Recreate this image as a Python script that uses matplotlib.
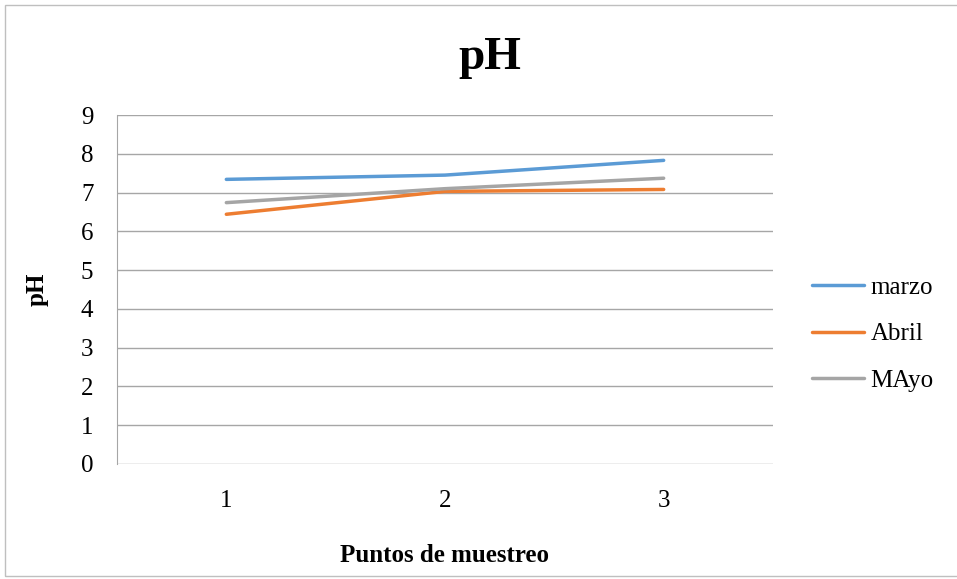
import matplotlib
matplotlib.use("Agg")
import matplotlib.pyplot as plt
from matplotlib.patches import Rectangle

points = [1, 2, 3]
marzo = [7.34, 7.45, 7.83]
abril = [6.44, 7.03, 7.08]
mayo = [6.74, 7.10, 7.37]
series_names = ["marzo", "Abril", "MAyo"]
colors = ["#5B9BD5", "#ED7D31", "#A5A5A5"]
yticks = list(range(0, 10))

plt.rcParams['font.family'] = ['Liberation Serif', 'DejaVu Serif']

W, H = 957, 579
fig = plt.figure(figsize=(W/100, H/100), dpi=100)
fig.patches.append(Rectangle((5/W, 3/H), 1.2, (H-8)/H, transform=fig.transFigure,
                             fill=False, edgecolor="#BFBFBF", linewidth=1.0))

ax = fig.add_axes([117/W, 1-464/H, (773-117)/W, (464-115)/H])
for vals, name, c in zip([marzo, abril, mayo], series_names, colors):
    ax.plot(points, vals, color=c, linewidth=2.5, label=name, solid_capstyle="round")

ax.set_xlim(0.5, 3.5)
ax.set_ylim(0, 9)
ax.set_yticks(yticks)
ax.set_xticks(points)
ax.yaxis.grid(True, color="#A6A6A6", linewidth=1.0)
ax.set_axisbelow(True)
for s in ["top", "right", "bottom"]:
    ax.spines[s].set_visible(False)
ax.spines["left"].set_color("#A6A6A6")
ax.tick_params(axis="both", length=0, labelsize=18)
ax.tick_params(axis="y", pad=17)
ax.tick_params(axis="x", pad=19)

fig.text(490/W, 1-58/H, "pH", fontsize=34, fontweight="bold", ha="center", va="center")
fig.text(444/W, 1-555/H, "Puntos de muestreo", fontsize=18, fontweight="bold", ha="center", va="center")
fig.text(37/W, 1-289/H, "pH", fontsize=18, fontweight="bold", ha="center", va="center", rotation=90)

leg = ax.legend(loc="center left", bbox_to_anchor=(1.059, 0.372), frameon=False,
                fontsize=18, handlelength=2.1, handletextpad=0.25, labelspacing=0.95,
                borderaxespad=0, borderpad=0)

fig.savefig("out.png", dpi=100)
